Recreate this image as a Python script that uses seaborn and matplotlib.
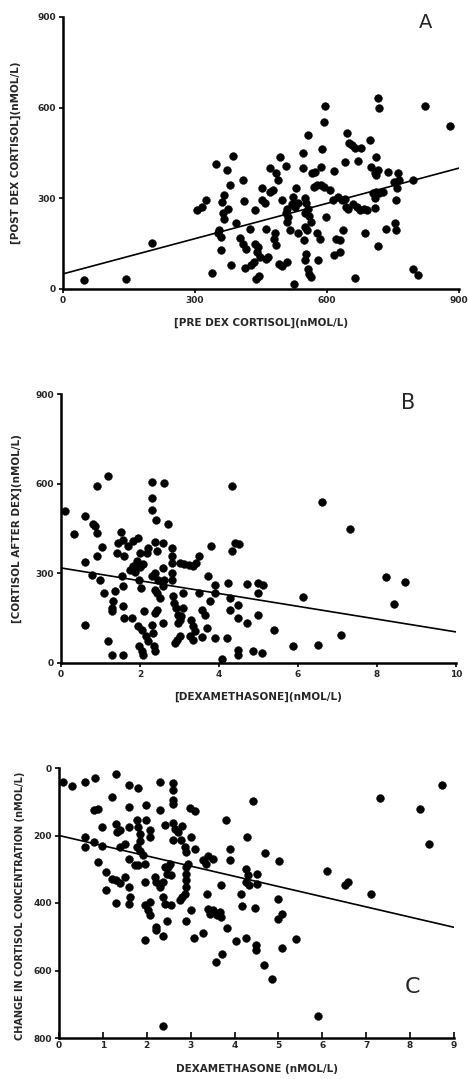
import matplotlib
matplotlib.use("Agg")
import matplotlib.pyplot as plt
import seaborn as sns
import pandas as pd

# ---------------- Panel A data ----------------
a_x = [48,144,202,305,317,326,347,373,387,379,366,361,363,365,355,352,360,359,375,338,381,394,409,411,403,409,415,424,414,428,433,436,436,441,443,447,439,445,453,453,458,470,477,462,466,462,471,483,488,481,479,485,491,498,493,506,498,508,506,511,508,516,509,526,530,523,520,528,535,534,545,557,546,549,553,557,551,560,549,555,564,547,553,549,556,564,560,567,573,571,578,577,583,579,587,594,606,589,594,596,587,598,617,614,625,633,621,629,617,630,636,642,645,649,656,664,640,644,647,660,668,676,683,690,671,678,663,687,697,701,708,716,711,711,705,712,719,727,709,716,718,716,708,735,739,754,757,761,764,752,760,757,795,795,806,822,879]
a_y = [31,33,153,261,272,296,412,394,440,344,311,288,250,233,195,184,172,130,266,54,78,217,360,292,170,150,134,200,70,78,90,261,150,123,139,106,34,42,333,294,283,322,327,200,106,100,401,383,360,184,164,145,84,77,438,408,294,266,250,239,222,195,90,18,333,304,280,270,285,184,449,509,399,300,285,265,250,240,206,195,222,161,117,95,67,40,50,383,388,338,344,184,167,95,345,338,327,463,554,604,405,239,391,294,305,296,167,161,112,123,195,420,515,482,477,466,297,272,266,280,270,262,265,260,423,466,38,184,493,405,383,394,378,438,316,322,318,322,300,631,598,142,268,200,388,217,195,383,360,355,333,294,360,67,45,604,540]
a_fit_x = [0, 900]
a_fit_y = [50, 400]

# ---------------- Panel B data ----------------
b_x = [0.11,0.33,0.60,0.82,0.86,0.92,0.90,1.20,0.61,0.90,1.03,0.78,0.99,0.60,1.09,1.18,1.28,1.58,1.37,1.31,1.30,1.30,1.41,1.45,1.51,1.58,1.60,1.54,1.58,1.58,1.60,1.80,1.70,1.83,1.96,1.75,1.82,1.88,1.93,2.00,2.07,1.98,2.03,2.00,2.10,1.96,2.04,1.98,2.04,2.07,2.15,2.20,2.30,2.34,2.35,2.37,2.30,2.30,2.30,2.40,2.61,2.72,2.20,2.17,2.38,2.42,2.38,2.46,2.30,2.38,2.44,2.51,2.42,2.38,2.58,2.58,2.58,2.62,2.58,2.80,2.80,2.82,2.80,2.82,2.84,2.87,2.91,2.89,2.93,3.00,2.95,3.00,2.97,3.00,3.12,3.25,3.33,3.42,3.49,3.10,3.08,3.05,3.30,3.35,3.39,3.27,3.35,3.56,3.50,3.56,3.65,3.69,3.71,3.77,3.90,3.81,3.90,3.90,4.07,4.20,4.22,4.28,4.28,4.32,4.32,4.41,4.51,4.49,4.47,4.49,4.49,4.70,4.70,4.99,5.11,4.99,4.99,4.87,5.08,5.39,5.88,6.12,6.50,6.61,7.08,7.32,8.23,8.42,8.71]
b_y = [510,433,491,466,457,435,593,627,338,357,388,293,279,127,234,72,28,26,240,206,184,173,368,401,437,413,357,290,256,190,151,151,390,407,418,310,325,305,340,320,330,279,251,368,173,123,112,58,39,28,89,72,128,100,56,39,605,552,513,480,602,466,385,368,404,374,301,279,290,245,234,217,178,167,401,318,256,279,134,385,357,335,301,279,223,201,184,67,78,89,162,145,134,335,330,328,325,335,357,234,184,156,145,123,106,92,76,87,234,178,162,117,290,206,234,393,262,84,13,84,268,217,178,593,376,401,399,195,151,45,28,134,264,268,262,234,159,39,33,109,58,220,61,539,95,448,288,197,271]
b_fit_x = [0, 10]
b_fit_y = [318, 104]

# ---------------- Panel C data ----------------
c_x = [0.09,0.30,0.59,0.81,1.31,1.60,1.80,1.21,2.29,2.60,2.60,2.60,2.60,4.41,7.31,8.22,8.73,8.43,0.80,0.89,1.60,1.99,2.29,2.41,2.99,3.09,3.80,0.59,0.59,0.79,0.99,0.99,1.31,1.38,1.33,1.60,1.78,1.80,1.84,1.84,1.99,2.07,2.08,1.77,1.85,1.92,1.38,1.50,1.60,0.89,2.60,2.64,2.72,2.80,2.60,2.79,2.86,2.90,3.00,3.09,3.28,3.36,3.40,3.50,3.89,3.89,4.29,4.27,4.31,4.27,4.33,4.50,4.50,4.70,5.02,6.11,6.51,6.59,7.10,1.08,1.20,1.30,1.38,1.50,1.59,1.61,1.59,1.08,1.30,1.73,1.81,1.96,1.97,1.97,2.07,2.03,2.07,2.18,2.22,2.29,2.37,2.41,2.37,2.45,2.48,2.41,2.52,2.56,2.20,2.20,2.36,1.95,2.47,2.56,2.75,2.81,2.86,2.90,2.90,2.90,2.90,2.94,2.90,3.00,3.07,3.27,3.38,3.40,3.44,3.51,3.59,3.66,3.68,3.68,3.57,3.72,3.83,4.03,4.16,4.25,4.15,4.47,4.48,4.48,4.68,4.86,5.00,4.99,5.09,5.09,5.39,5.90,2.37]
c_y = [41,54,41,30,17,49,59,86,41,44,66,96,106,99,89,120,49,226,125,121,116,111,125,170,119,127,155,204,234,219,232,175,165,185,190,175,155,175,195,215,155,185,204,234,245,258,234,224,271,279,163,180,190,172,214,214,234,249,204,239,274,284,262,269,241,274,204,298,318,338,348,313,343,251,276,305,348,338,372,308,328,333,341,323,353,382,402,362,399,288,288,285,338,407,397,422,437,323,338,353,382,402,338,313,294,294,284,318,471,481,498,511,453,407,392,382,372,353,333,313,294,284,453,422,503,489,374,417,432,422,437,427,440,348,575,552,475,513,409,503,372,414,525,540,583,624,387,446,432,532,508,734,763]
c_fit_x = [0, 9]
c_fit_y = [200, 472]

sns.set_theme(style="ticks")
plt.rcParams['font.family'] = ['DejaVu Sans']

fig = plt.figure(figsize=(4.68, 10.79), dpi=100)
W, H = 468.0, 1079.0

def add_ax(left, right, top, bottom):
    return fig.add_axes([left / W, 1 - bottom / H, (right - left) / W, (bottom - top) / H])

axA = add_ax(63, 459, 17, 289)
axB = add_ax(61, 456, 394, 663)
axC = add_ax(59, 454, 768, 1038)

lab_kw = dict(fontsize=7.5, fontweight='bold')

def style(ax):
    for s in ['top', 'right']:
        ax.spines[s].set_visible(False)
    for s in ['left', 'bottom']:
        ax.spines[s].set_linewidth(1.8)
        ax.spines[s].set_color('black')
    ax.tick_params(axis='both', length=3, width=1.2, color='black', pad=2)
    for lbl in ax.get_xticklabels() + ax.get_yticklabels():
        lbl.set_fontsize(6.5)
        lbl.set_fontweight('bold')

def panel(ax, x, y, fx, fy):
    df = pd.DataFrame({'x': x, 'y': y})
    sns.scatterplot(data=df, x='x', y='y', ax=ax, color='black', s=32,
                    edgecolor='black', linewidth=0.3, legend=False)
    fit = pd.DataFrame({'x': fx, 'y': fy})
    sns.lineplot(data=fit, x='x', y='y', ax=ax, color='black', linewidth=1.2)

# Panel A
panel(axA, a_x, a_y, a_fit_x, a_fit_y)
axA.set_xlim(0, 900); axA.set_ylim(0, 900)
axA.set_xticks([0, 300, 600, 900]); axA.set_yticks([0, 300, 600, 900])
axA.set_xlabel('[PRE DEX CORTISOL](nMOL/L)', **lab_kw)
axA.set_ylabel('[POST DEX CORTISOL](nMOL/L)', **lab_kw)
axA.xaxis.set_label_coords(0.5, -0.105)
axA.yaxis.set_label_coords(-0.106, 0.5)
style(axA)
axA.text(0.915, 1.015, 'A', transform=axA.transAxes, fontsize=14, va='top', ha='center')

# Panel B
panel(axB, b_x, b_y, b_fit_x, b_fit_y)
axB.set_xlim(0, 10); axB.set_ylim(0, 900)
axB.set_xticks([0, 2, 4, 6, 8, 10]); axB.set_yticks([0, 300, 600, 900])
axB.set_xlabel('[DEXAMETHASONE](nMOL/L)', **lab_kw)
axB.set_ylabel('[CORTISOL AFTER DEX](nMOL/L)', **lab_kw)
axB.xaxis.set_label_coords(0.5, -0.105)
axB.yaxis.set_label_coords(-0.099, 0.5)
style(axB)
axB.text(0.878, 1.004, 'B', transform=axB.transAxes, fontsize=15, va='top', ha='center')

# Panel C
panel(axC, c_x, c_y, c_fit_x, c_fit_y)
axC.set_xlim(0, 9); axC.set_ylim(800, 0)
axC.set_xticks(list(range(10))); axC.set_yticks([0, 200, 400, 600, 800])
axC.set_xlabel('DEXAMETHASONE (nMOL/L)', **lab_kw)
axC.set_ylabel('CHANGE IN CORTISOL CONCENTRATION (nMOL/L)', fontsize=7, fontweight='bold')
axC.xaxis.set_label_coords(0.5, -0.095)
axC.yaxis.set_label_coords(-0.086, 0.49)
style(axC)
axC.tick_params(axis='x', direction='in', length=4)
axC.text(0.896, 0.19, 'C', transform=axC.transAxes, fontsize=16, va='center', ha='center')

fig.savefig('out.png', dpi=100, facecolor='white')
